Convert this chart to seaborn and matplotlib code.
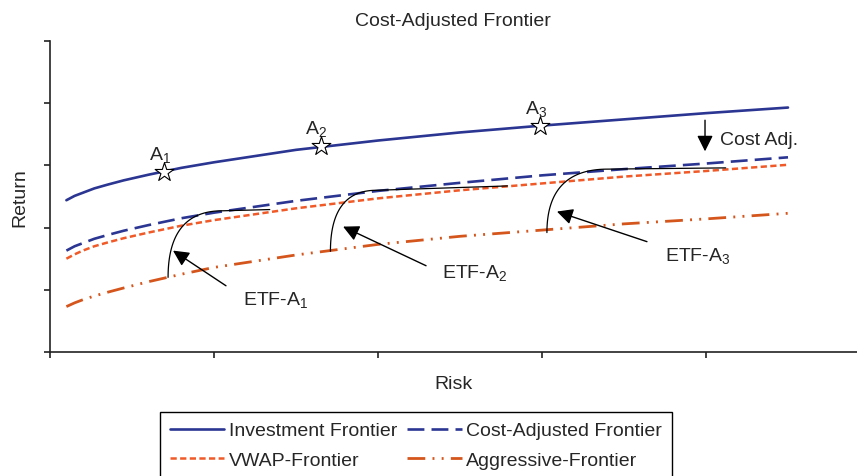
import numpy as np
import pandas as pd
import matplotlib
matplotlib.use("Agg")
import matplotlib.pyplot as plt
import seaborn as sns

# ---------------- data ----------------
risk = [0.1, 0.15, 0.2, 0.27, 0.35, 0.45, 0.6, 0.8, 1.0, 1.5, 2.0, 2.5, 3.0, 3.5, 4.0, 4.5]
investment = [2.44, 2.51, 2.56, 2.63, 2.69, 2.76, 2.85, 2.96, 3.05, 3.25, 3.40, 3.53, 3.64, 3.74, 3.84, 3.93]
cost_adjusted = [1.63, 1.70, 1.75, 1.82, 1.88, 1.95, 2.04, 2.15, 2.24, 2.43, 2.59, 2.72, 2.84, 2.94, 3.03, 3.13]
vwap = [1.50, 1.57, 1.63, 1.70, 1.76, 1.83, 1.92, 2.03, 2.12, 2.31, 2.47, 2.60, 2.71, 2.82, 2.91, 3.01]
aggressive = [0.73, 0.79, 0.84, 0.90, 0.96, 1.03, 1.13, 1.25, 1.36, 1.56, 1.73, 1.86, 1.96, 2.06, 2.14, 2.23]

series_labels = ["Investment Frontier", "Cost-Adjusted Frontier",
                 "VWAP-Frontier", "Aggressive-Frontier"]

star_labels = ["A$_1$", "A$_2$", "A$_3$"]
star_risk = [0.695, 1.65, 2.99]
star_return = [2.90, 3.31, 3.63]

etf_labels = ["ETF-A$_1$", "ETF-A$_2$", "ETF-A$_3$"]
etf_start_x = [0.72, 1.71, 3.03]
etf_start_y = [1.20, 1.62, 1.92]
etf_knee_x = [1.05, 1.99, 3.40]
etf_top_y = [2.27, 2.60, 2.94]
etf_end_x = [1.34, 2.79, 4.12]
etf_end_y = [2.29, 2.67, 2.96]

# ---------------- style ----------------
sns.set_style("ticks")
plt.rcParams["font.family"] = ["Liberation Sans", "DejaVu Sans"]
plt.rcParams["mathtext.default"] = "regular"

BLUE = "#2b3592"
VWAP_C = "#f05a28"
AGGR_C = "#d5561d"
SPINE = "#222222"
FS = 14

fig = plt.figure(figsize=(8.57, 4.77), dpi=100)
ax = fig.add_axes([50 / 857, 124 / 477, 807 / 857, 311 / 477])

handles = {}
sns.lineplot(x=risk, y=investment, ax=ax, color=BLUE, lw=1.9,
             estimator=None, sort=False)
handles[series_labels[0]] = ax.lines[-1]
sns.lineplot(x=risk, y=cost_adjusted, ax=ax, color=BLUE, lw=1.9,
             linestyle=(0, (6.4, 2.7)), estimator=None, sort=False)
handles[series_labels[1]] = ax.lines[-1]
sns.lineplot(x=risk, y=vwap, ax=ax, color=VWAP_C, lw=1.8,
             linestyle=(0, (2.5, 1.35)), estimator=None, sort=False)
handles[series_labels[2]] = ax.lines[-1]
sns.lineplot(x=risk, y=aggressive, ax=ax, color=AGGR_C, lw=2.0,
             linestyle=(0, (6.4, 2.6, 0.7, 2.6, 0.7, 2.6)),
             estimator=None, sort=False)
handles[series_labels[3]] = ax.lines[-1]

# ETF transition curves (smooth corner from start up to plateau)
t = np.linspace(0, 1, 60)
for i in range(len(etf_labels)):
    x0, y0 = etf_start_x[i], etf_start_y[i]
    xk, yt = etf_knee_x[i], etf_top_y[i]
    bx = (1 - t) ** 2 * x0 + 2 * (1 - t) * t * x0 + t ** 2 * xk
    by = (1 - t) ** 2 * y0 + 2 * (1 - t) * t * yt + t ** 2 * yt
    bx = np.append(bx, etf_end_x[i])
    by = np.append(by, etf_end_y[i])
    sns.lineplot(x=bx, y=by, ax=ax, color="black", lw=0.9,
                 estimator=None, sort=False)

# stars on the investment frontier
sns.scatterplot(x=star_risk, y=star_return, ax=ax, marker="*", s=200,
                facecolor="white", edgecolor="black", linewidth=0.8, zorder=5)
for lab, sx, sy in zip(star_labels, star_risk, star_return):
    ax.annotate(lab, xy=(sx, sy), xytext=(-3, 13), textcoords="offset points",
                ha="center", va="center", fontsize=FS)

# arrows + labels
arrow_kw = dict(arrowstyle="-|>,head_length=0.6,head_width=0.3",
                mutation_scale=16, color="black", lw=1.0,
                shrinkA=0, shrinkB=0)
etf_arrow_tail = [(1.073, 1.065), (2.293, 1.387), (3.640, 1.774)]
etf_arrow_tip = [(0.75, 1.63), (1.787, 2.016), (3.091, 2.258)]
etf_text_pos = [(1.177, 0.86), (2.39, 1.28), (3.75, 1.555)]
for lab, tail, tip, tp in zip(etf_labels, etf_arrow_tail, etf_arrow_tip, etf_text_pos):
    ax.annotate("", xy=tip, xytext=tail, arrowprops=arrow_kw)
    ax.text(tp[0], tp[1], lab, ha="left", va="center", fontsize=FS)

ax.annotate("", xy=(3.994, 3.226), xytext=(3.994, 3.726), arrowprops=arrow_kw)
ax.text(4.085, 3.42, "Cost Adj.", ha="left", va="center", fontsize=FS)

# axes
ax.set_xlim(0, 807 / 164)
ax.set_ylim(0, 5)
ax.set_xticks([0, 1, 2, 3, 4])
ax.set_yticks([0, 1, 2, 3, 4, 5])
ax.set_xticklabels([])
ax.set_yticklabels([])
ax.tick_params(direction="out", length=4.5, width=1.2, color=SPINE)
for side in ["top", "right"]:
    ax.spines[side].set_visible(False)
for side in ["left", "bottom"]:
    ax.spines[side].set_linewidth(1.2)
    ax.spines[side].set_color(SPINE)

fig.text(453 / 857, 1 - 21 / 477, "Cost-Adjusted Frontier", ha="center",
         va="center", fontsize=FS)
fig.text(20 / 857, 1 - 198 / 477, "Return", rotation=90, ha="center",
         va="center", fontsize=FS)
fig.text(453 / 857, 1 - 385 / 477, "Risk", ha="center", va="center",
         fontsize=FS)

order = [series_labels[0], series_labels[2], series_labels[1], series_labels[3]]
leg = fig.legend([handles[k] for k in order], order, loc="upper left",
                 bbox_to_anchor=(160 / 857, 1 - 413 / 477), ncol=2,
                 frameon=True, fancybox=False, edgecolor="black", framealpha=1,
                 borderpad=0.5, labelspacing=0.6, handlelength=2.8,
                 handletextpad=0.25, columnspacing=0.5, borderaxespad=0,
                 fontsize=FS)
leg.get_frame().set_linewidth(1.0)

fig.savefig("out.png", dpi=100)
